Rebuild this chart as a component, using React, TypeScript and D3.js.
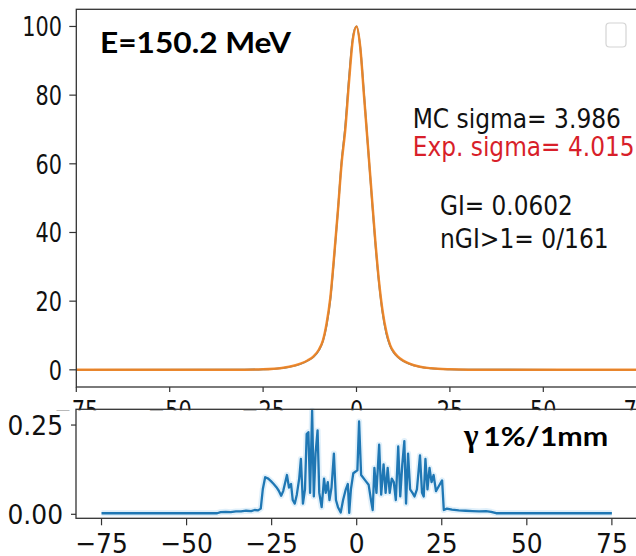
import React from 'react';
import * as d3 from 'd3';

const W = 636;
const H = 556;

// ---- top panel: lateral profile ----
const profileX = [-75, -30, -25, -20, -18, -15, -13, -11.5, -10, -9, -8, -7, -6, -5, -4, -3, -2, -1, 0, 1, 2, 3, 4, 5, 6, 7, 8, 9, 10, 11, 12.5, 14, 17, 20, 25, 30, 75];
const expProfile = [0, 0.05, 0.15, 0.55, 0.9, 1.8, 2.8, 3.9, 6, 8.5, 13.5, 21, 33, 46, 60, 70, 84, 96, 100, 94, 80, 66, 52, 38, 26, 17, 11, 7.2, 5.2, 3.9, 2.7, 1.9, 0.9, 0.45, 0.15, 0.05, 0];
const mcProfile = [0, 0.05, 0.15, 0.5, 0.85, 1.7, 2.7, 3.8, 5.8, 8.3, 13, 20.5, 32.5, 46, 60.5, 71, 85, 96.5, 100, 94, 80.5, 66, 51.5, 37.5, 25.5, 16.5, 10.5, 7, 5, 3.8, 2.6, 1.8, 0.85, 0.4, 0.12, 0.04, 0];

// ---- bottom panel: gamma index ----
const gammaX = [-75, -60, -45, -41, -40, -38.5, -37, -35.5, -34, -32.5, -31, -30, -29, -28.2, -27.6, -26.9, -26, -25.2, -24.4, -23.6, -22.9, -22.2, -21.6, -21, -20.5, -19.9, -19.3, -18.8, -18.2, -17.6, -16.9, -16.4, -15.8, -15.2, -14.7, -14.2, -13.7, -13.1, -12.6, -12.1, -11.5, -11.0, -10.3, -9.6, -9.1, -8.5, -8.0, -7.4, -6.7, -6.1, -5.5, -4.7, -4.0, -3.2, -2.6, -2.2, -1.7, -1.0, -0.3, 0.2, 0.7, 1.3, 2.5, 3.5, 4.2, 4.7, 5.2, 5.8, 6.6, 7.2, 7.9, 8.5, 9.1, 9.7, 10.3, 10.9, 11.5, 12.2, 12.8, 13.4, 14.0, 14.5, 15.1, 15.7, 16.4, 17.0, 17.7, 18.6, 19.2, 19.7, 20.2, 20.8, 21.4, 22.0, 22.6, 23.3, 24.2, 25.1, 25.6, 26.5, 28, 30, 32, 34, 36, 38, 39.5, 41, 50, 60, 75];
const gammaY = [0.003, 0.003, 0.003, 0.003, 0.006, 0.007, 0.006, 0.008, 0.008, 0.010, 0.009, 0.012, 0.011, 0.016, 0.07, 0.104, 0.1, 0.093, 0.085, 0.076, 0.066, 0.052, 0.065, 0.09, 0.11, 0.075, 0.085, 0.04, 0.03, 0.055, 0.1, 0.155, 0.03, 0.07, 0.225, 0.23, 0.06, 0.29, 0.05, 0.17, 0.235, 0.06, 0.02, 0.1, 0.06, 0.09, 0.04, 0.075, 0.17, 0.04, 0.02, 0.005, 0.04, 0.07, 0.085, 0.004, 0.07, 0.115, 0.12, 0.123, 0.26, 0.11, 0.095, 0.083, 0.04, 0.012, 0.13, 0.06, 0.195, 0.055, 0.14, 0.06, 0.13, 0.06, 0.1, 0.09, 0.04, 0.19, 0.05, 0.14, 0.205, 0.03, 0.17, 0.07, 0.06, 0.05, 0.07, 0.165, 0.06, 0.05, 0.155, 0.07, 0.13, 0.09, 0.11, 0.065, 0.08, 0.095, 0.012, 0.016, 0.013, 0.011, 0.010, 0.009, 0.008, 0.009, 0.007, 0.003, 0.003, 0.003, 0.003];

const topXTicks = [-75, -50, -25, 0, 25, 50, 75];
const topYTicks = [0, 20, 40, 60, 80, 100];
const botXTicks = [-75, -50, -25, 0, 25, 50, 75];
const botYTicks = [0, 0.25];
const botYTickLabels = ['0.00', '0.25'];

const titleText = 'E=150.2 MeV';
const mcText = 'MC sigma= 3.986';
const expText = 'Exp. sigma= 4.015';
const giText = 'GI= 0.0602';
const ngiText = 'nGI>1= 0/161';
const gammaSymbol = 'γ';
const gammaLabel = '1%/1mm';

const fmt = (v: number) => (v < 0 ? '\u2212' + Math.abs(v) : String(v));

const TICK_FONT = 'DejaVu Sans, Verdana, sans-serif';

function SText(props: { x: number; y: number; sx: number; anchor?: string; size: number; children: any; fill?: string }) {
  const { x, y, sx, anchor = 'middle', size, children, fill = '#111' } = props;
  return (
    <text
      transform={`translate(${x},${y}) scale(${sx},1)`}
      textAnchor={anchor}
      fontFamily={TICK_FONT}
      fontSize={size}
      fill={fill}
    >
      {children}
    </text>
  );
}

export default function App() {
  const xTop = d3.scaleLinear().domain([-75, 75]).range([76.3, 636.7]);
  const yTop = d3.scaleLinear().domain([-5, 105]).range([387, 9.3]);
  const xBot = d3.scaleLinear().domain([-82.5, 82.5]).range([76, 637.4]);
  const yBot = d3.scaleLinear().domain([-0.0112, 0.2941]).range([518.3, 409.3]);

  const profLine = (ys: number[]) =>
    d3
      .line<number>()
      .x((_, i) => xTop(profileX[i]))
      .y((d) => yTop(d))
      .curve(d3.curveMonotoneX)(ys) || '';

  const gammaPath =
    d3
      .line<number>()
      .x((_, i) => xBot(gammaX[i]))
      .y((d) => yBot(d))(gammaY) || '';

  const [tx0, tx1] = xTop.range();
  const [ty0, ty1] = [yTop.range()[1], yTop.range()[0]];
  const [bx0, bx1] = xBot.range();
  const [by0, by1] = [yBot.range()[1], yBot.range()[0]];

  const spine = '#333';

  return (
    <svg width={W} height={H} style={{ position: 'absolute', left: 0, top: 0, background: '#fff' }}>
      <rect x={0} y={0} width={W} height={H} fill="#fff" />

      {/* ---------- TOP PANEL ---------- */}
      <g>
        <path d={profLine(mcProfile)} fill="none" stroke="#1f77b4" strokeWidth={1.8} />
        <path d={profLine(expProfile)} fill="none" stroke="#f5841f" strokeWidth={2.5} strokeOpacity={0.92} />
        <rect x={tx0} y={ty0} width={tx1 - tx0} height={ty1 - ty0} fill="none" stroke={spine} strokeWidth={1.3} />
        {topYTicks.map((t) => (
          <g key={'ty' + t}>
            <line x1={tx0 - 7} x2={tx0} y1={yTop(t)} y2={yTop(t)} stroke={spine} strokeWidth={1.2} />
            <SText x={62} y={yTop(t) + 10} sx={0.76} anchor="end" size={27.4}>
              {fmt(t)}
            </SText>
          </g>
        ))}
        {topXTicks.map((t) => (
          <g key={'tx' + t}>
            <line x1={xTop(t)} x2={xTop(t)} y1={ty1} y2={ty1 + 5} stroke={spine} strokeWidth={1.2} />
            <SText x={xTop(t)} y={420} sx={0.76} size={27.4}>
              {fmt(t)}
            </SText>
          </g>
        ))}
        <text x={100} y={52.7} fontFamily="Lato, Open Sans, sans-serif" fontWeight={700} fontSize={29} textLength={191} lengthAdjust="spacingAndGlyphs" fill="#000">
          {titleText}
        </text>
        <rect x={606} y={23} width={20} height={24} rx={3.5} fill="#fff" stroke="#d4d4d4" strokeWidth={1.2} />
        <text x={412.7} y={128.3} fontFamily={TICK_FONT} fontSize={26} textLength={208.3} lengthAdjust="spacingAndGlyphs" fill="#111">
          {mcText}
        </text>
        <text x={412.7} y={155.5} fontFamily={TICK_FONT} fontSize={26} textLength={222} lengthAdjust="spacingAndGlyphs" fill="#d81f2a">
          {expText}
        </text>
        <text x={440} y={215} fontFamily={TICK_FONT} fontSize={26} textLength={132.7} lengthAdjust="spacingAndGlyphs" fill="#111">
          {giText}
        </text>
        <text x={440} y={248.3} fontFamily={TICK_FONT} fontSize={26} textLength={168.7} lengthAdjust="spacingAndGlyphs" fill="#111">
          {ngiText}
        </text>
      </g>

      {/* ---------- BOTTOM PANEL (pasted over) ---------- */}
      <rect x={0} y={410.3} width={W} height={H - 410.3} fill="#fff" />
      <g>
        <path d={gammaPath} fill="none" stroke="#a8d4f2" strokeWidth={6} strokeOpacity={0.35} strokeLinejoin="round" />
        <path d={gammaPath} fill="none" stroke="#1f77b4" strokeWidth={2.3} strokeLinejoin="round" />
        <rect x={bx0} y={by0} width={bx1 - bx0} height={by1 - by0} fill="none" stroke={spine} strokeWidth={1.3} />
        {botYTicks.map((t, i) => (
          <g key={'by' + t}>
            <line x1={bx0 - 5} x2={bx0} y1={yBot(t)} y2={yBot(t)} stroke={spine} strokeWidth={1.2} />
            <SText x={63} y={yBot(t) + 10} sx={0.91} anchor="end" size={27.4}>
              {botYTickLabels[i]}
            </SText>
          </g>
        ))}
        {botXTicks.map((t) => (
          <g key={'bx' + t}>
            <line x1={xBot(t)} x2={xBot(t)} y1={by1} y2={by1 + 7} stroke={spine} strokeWidth={1.2} />
            <SText x={xBot(t)} y={553.3} sx={0.91} size={27.4}>
              {fmt(t)}
            </SText>
          </g>
        ))}
        <text x={464} y={446} fontFamily="Liberation Serif, serif" fontWeight={700} fontSize={31} fill="#000">
          {gammaSymbol}
        </text>
        <text x={483} y={446} fontFamily="Lato, Open Sans, sans-serif" fontWeight={700} fontSize={27.5} textLength={125.3} lengthAdjust="spacingAndGlyphs" fill="#000">
          {gammaLabel}
        </text>
      </g>
    </svg>
  );
}
